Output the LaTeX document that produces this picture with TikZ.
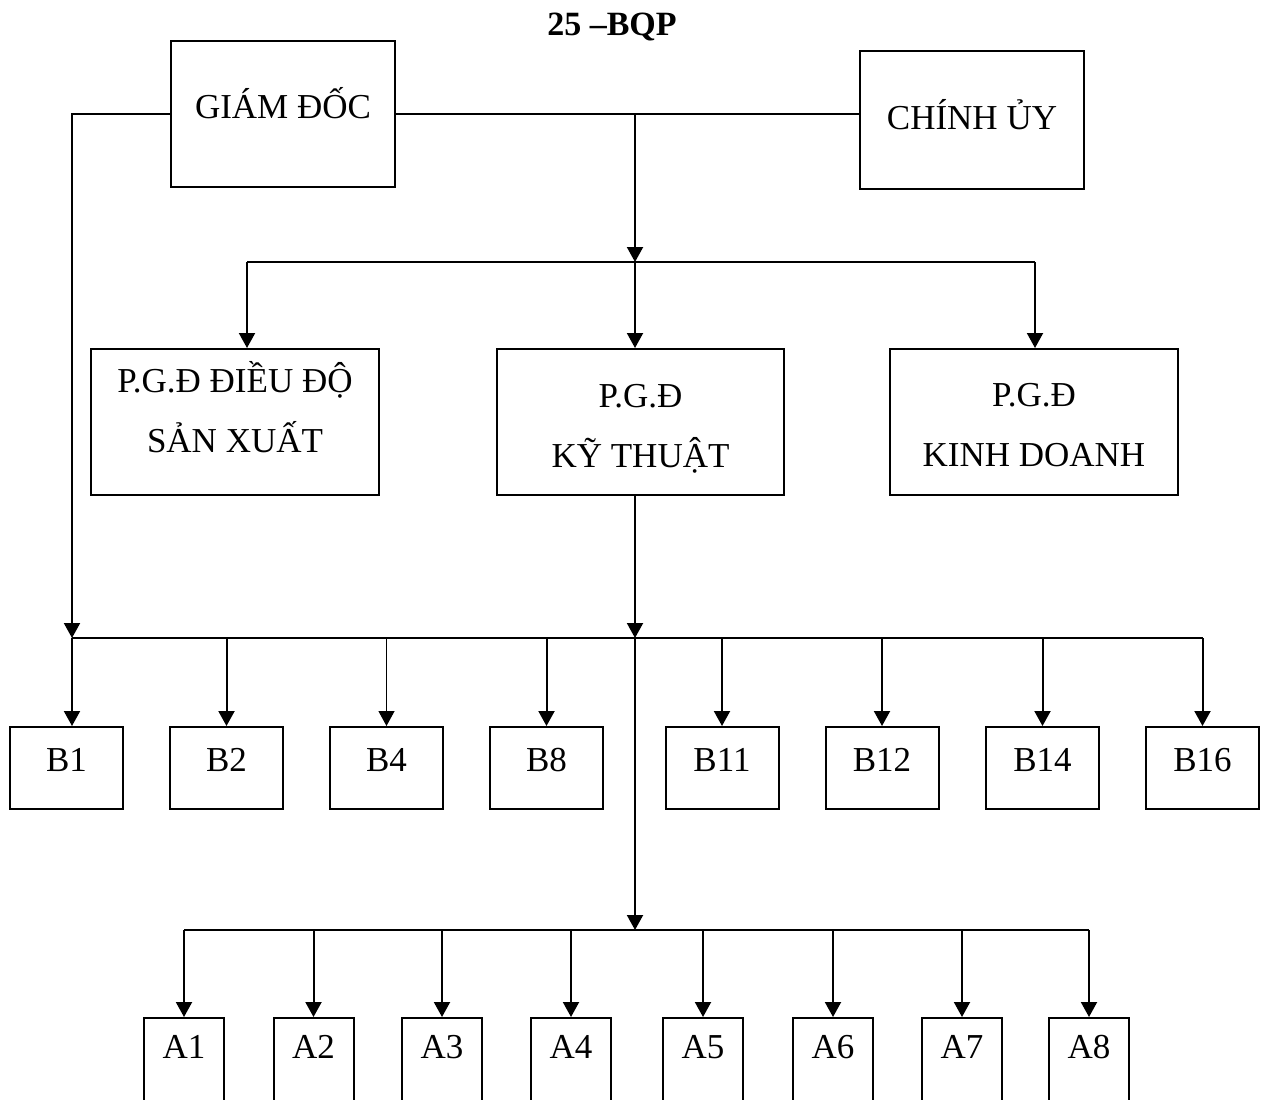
\documentclass[tikz,border=0pt]{standalone}
\usepackage{fontspec}
\setmainfont{Liberation Serif}
\usetikzlibrary{arrows.meta}
\newcommand\rowlift[2][0pt]{\raisebox{#1}[12pt][4pt]{#2}}
\tikzset{
	boxfont/.style={font=\fontsize{17.5}{30}\selectfont},
	leadbox/.style={draw, line width=1pt, boxfont, inner sep=0pt, minimum width=112pt, anchor=north west},
	pgdbox/.style={draw, line width=1pt, boxfont, inner sep=0pt, minimum width=144pt, minimum height=73pt, align=center, anchor=north west},
	bbox/.style={draw, line width=1pt, boxfont, inner sep=0pt, minimum width=56.5pt, text height=22pt, text depth=19pt, anchor=north},
	abox/.style={draw, line width=1pt, boxfont, inner sep=0pt, minimum width=40pt, text height=20pt, text depth=90pt, anchor=north},
	link/.style={line width=1pt},
	arr/.style={line width=1pt, -{Triangle[width=8pt,length=7.5pt]}}
}

\begin{document}
\begin{tikzpicture}[x=0.5pt,y=-0.5pt]
			%%%%% START %%%%%
			\clip (0,0) rectangle (1264,1099);
			
			\node[font=\fontsize{17}{20}\selectfont\bfseries, anchor=base] (ttl) at (612,35) {25 –BQP};
			
			\node[leadbox, text height=38.5pt, text depth=34.5pt] (gd) at (170,40) {GIÁM ĐỐC};
			\node[leadbox, text height=39pt, text depth=30pt] (cu) at (859,50) {CHÍNH ỦY};
			
			\node[pgdbox] (sx) at (90,348) {\rowlift[4pt]{P.G.Đ ĐIỀU ĐỘ}\\\rowlift[4pt]{SẢN XUẤT}};
			\node[pgdbox, minimum width=143.5pt] (kt) at (496,348) {\rowlift[-3.5pt]{P.G.Đ}\\\rowlift[-3.5pt]{KỸ THUẬT}};
			\node[pgdbox] (kd) at (889,348) {\rowlift[-3pt]{P.G.Đ}\\\rowlift[-3pt]{KINH DOANH}};
			
			\node[bbox] (b1) at (66.5,726) {B1};
			\node[bbox] (b2) at (226.5,726) {B2};
			\node[bbox] (b4) at (386.5,726) {B4};
			\node[bbox] (b8) at (546.5,726) {B8};
			\node[bbox] (b11) at (722,726) {B11};
			\node[bbox] (b12) at (882,726) {B12};
			\node[bbox] (b14) at (1042.5,726) {B14};
			\node[bbox] (b16) at (1202.5,726) {B16};
			
			\node[abox] (a1) at (184,1017) {A1};
			\node[abox] (a2) at (313.5,1017) {A2};
			\node[abox] (a3) at (442,1017) {A3};
			\node[abox] (a4) at (571,1017) {A4};
			\node[abox] (a5) at (703,1017) {A5};
			\node[abox] (a6) at (833,1017) {A6};
			\node[abox] (a7) at (962,1017) {A7};
			\node[abox] (a8) at (1089,1017) {A8};
			
			\coordinate (jt) at (635,113);
			\coordinate (jb) at (635,262);
			\coordinate (tl) at (247,262);
			\coordinate (tr) at (1035,262);
			\coordinate (bl) at (72,638);
			\coordinate (bm) at (635,638);
			\coordinate (br) at (1203,638);
			\coordinate (am) at (635,930);
			
			% top level
			\draw[link] (gd.east) -- (gd.east -| cu.west);
			\draw[arr] (gd.west) -- (gd.west -| bl) -- (bl);
			\draw[arr] (jt) -- (jb);
			\draw[link] (tl) -- (tr);
			\draw[arr] (tl) -- (tl |- sx.north);
			\draw[arr] (jb) -- (jb |- kt.north);
			\draw[arr] (tr) -- (tr |- kd.north);
			
			% B row
			\draw[arr] (kt.south -| jb) -- (bm);
			\draw[link] (bl) -- (br);
			\draw[arr] (bl) -- (bl |- b1.north);
			\draw[arr] (b2.north |- bl) -- (b2.north);
			\draw[arr, line width=0.6pt] (b4.north |- bl) -- (b4.north);
			\draw[arr] (b8.north |- bl) -- (b8.north);
			\draw[arr] (b11.north |- bl) -- (b11.north);
			\draw[arr] (b12.north |- bl) -- (b12.north);
			\draw[arr] (b14.north |- bl) -- (b14.north);
			\draw[arr] (b16.north |- bl) -- (b16.north);
			
			% A row
			\draw[arr] (bm) -- (am);
			\draw[link] (a1.north |- am) -- (a8.north |- am);
			\draw[arr] (a1.north |- am) -- (a1.north);
			\draw[arr] (a2.north |- am) -- (a2.north);
			\draw[arr] (a3.north |- am) -- (a3.north);
			\draw[arr] (a4.north |- am) -- (a4.north);
			\draw[arr] (a5.north |- am) -- (a5.north);
			\draw[arr] (a6.north |- am) -- (a6.north);
			\draw[arr] (a7.north |- am) -- (a7.north);
			\draw[arr] (a8.north |- am) -- (a8.north);
			
			%%%%% END %%%%%
\end{tikzpicture}
\end{document}
